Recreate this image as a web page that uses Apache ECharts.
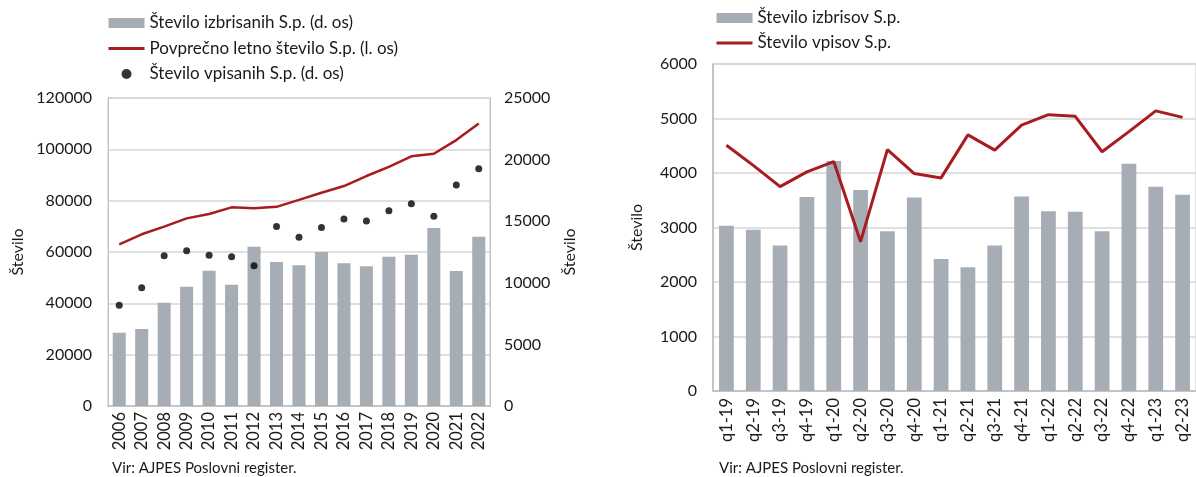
<!DOCTYPE html>
<html>
<head>
<meta charset="utf-8">
<script src="https://cdn.jsdelivr.net/npm/echarts@6/dist/echarts.min.js"></script>
<style>
  html, body { margin: 0; padding: 0; background: #fff; }
  #chart { width: 1196px; height: 477px; }
</style>
</head>
<body>
<div id="chart"></div>
<script>
// left chart: yearly data
const years = ['2006','2007','2008','2009','2010','2011','2012','2013','2014','2015','2016','2017','2018','2019','2020','2021','2022'];
const izbrisani = [5950, 6250, 8380, 9680, 10980, 9850, 12930, 11690, 11420, 12500, 11580, 11340, 12120, 12280, 14450, 10960, 13740];
const povprecno = [63000, 66900, 69900, 73100, 74800, 77400, 77000, 77600, 80300, 83100, 85700, 89600, 93200, 97300, 98300, 103600, 110100];
const vpisani = [8170, 9600, 12200, 12610, 12230, 12120, 11390, 14560, 13690, 14480, 15180, 15020, 15850, 16420, 15400, 17940, 19260];

// right chart: quarterly data
const quarters = ['q1-19','q2-19','q3-19','q4-19','q1-20','q2-20','q3-20','q4-20','q1-21','q2-21','q3-21','q4-21','q1-22','q2-22','q3-22','q4-22','q1-23','q2-23'];
const izbrisi = [3030, 2960, 2670, 3560, 4220, 3690, 2930, 3550, 2420, 2270, 2670, 3570, 3300, 3290, 2930, 4170, 3750, 3600];
const vpisi = [4510, 4140, 3750, 4020, 4210, 2740, 4430, 3990, 3910, 4700, 4420, 4880, 5070, 5040, 4390, 4760, 5140, 5020];

const FONT = 'Lato';
const GREY = '#a6adb4';
const RED = '#a81c20';
const AXIS = '#c4c4c4';
const GRID = '#d6d6d6';

const chart = echarts.init(document.getElementById('chart'));

const legendText = {fontFamily: FONT, fontSize: 17, color: '#1a1a1a', lineHeight: 18};
const tickText = {fontFamily: FONT, fontSize: 16, color: '#1a1a1a'};
const catText = {fontFamily: FONT, fontSize: 16.5, color: '#1a1a1a'};
const plain = v => String(v);
// legend line icon without the round marker
const noMarker = {opacity: 0};
const legendLine = {width: 3};

chart.setOption({
    animation: false,
    textStyle: {fontFamily: FONT},
    legend: [{
        orient: 'vertical',
        left: 107,
        top: 14,
        padding: 0,
        itemWidth: 36,
        itemHeight: 10,
        itemGap: 7.5,
        textStyle: legendText,
        data: [
            {name: 'Število izbrisanih S.p. (d. os)', icon: 'rect'},
            {name: 'Povprečno letno število S.p. (l. os)', itemStyle: noMarker, lineStyle: legendLine},
            {name: 'Število vpisanih S.p. (d. os)', icon: 'circle'}
        ]
    }, {
        orient: 'vertical',
        left: 715,
        top: 9,
        padding: 0,
        itemWidth: 36,
        itemHeight: 10,
        itemGap: 7,
        textStyle: legendText,
        data: [
            {name: 'Število izbrisov S.p.', icon: 'rect'},
            {name: 'Število vpisov S.p.', itemStyle: noMarker, lineStyle: legendLine}
        ]
    }],
    grid: [
        {left: 108, top: 98, width: 382, height: 308, show: true, borderColor: AXIS, borderWidth: 1},
        {left: 713, top: 64, width: 490, height: 327, show: true, borderColor: AXIS, borderWidth: 1}
    ],
    xAxis: [{
        gridIndex: 0,
        type: 'category',
        data: years,
        axisLine: {lineStyle: {color: AXIS, width: 2}},
        axisTick: {show: false},
        axisLabel: Object.assign({rotate: 90, margin: 6, interval: 0}, catText)
    }, {
        gridIndex: 1,
        type: 'category',
        data: quarters,
        axisLine: {lineStyle: {color: AXIS, width: 2}},
        axisTick: {show: false},
        axisLabel: Object.assign({rotate: 90, margin: 7, interval: 0}, catText)
    }],
    yAxis: [{
        gridIndex: 0,
        type: 'value',
        min: 0, max: 120000, interval: 20000,
        name: 'Število',
        nameLocation: 'middle',
        nameRotate: 90,
        nameGap: 82,
        nameTextStyle: tickText,
        axisLine: {show: true, lineStyle: {color: AXIS}},
        axisLabel: Object.assign({margin: 16, formatter: plain}, tickText),
        splitLine: {lineStyle: {color: GRID, width: 1.5}}
    }, {
        gridIndex: 0,
        type: 'value',
        position: 'right',
        min: 0, max: 25000, interval: 5000,
        name: 'Število',
        nameLocation: 'middle',
        nameRotate: 90,
        nameGap: 72,
        nameTextStyle: tickText,
        axisLine: {show: true, lineStyle: {color: AXIS}},
        axisLabel: Object.assign({margin: 14, formatter: plain}, tickText),
        splitLine: {show: false}
    }, {
        gridIndex: 1,
        type: 'value',
        min: 0, max: 6000, interval: 1000,
        name: 'Število',
        nameLocation: 'middle',
        nameRotate: 90,
        nameGap: 68,
        nameTextStyle: tickText,
        axisLine: {show: true, lineStyle: {color: AXIS, width: 2}},
        axisLabel: Object.assign({margin: 16, formatter: plain}, tickText),
        splitLine: {lineStyle: {color: GRID, width: 1.5}}
    }],
    series: [{
        name: 'Število izbrisanih S.p. (d. os)',
        type: 'bar',
        xAxisIndex: 0, yAxisIndex: 1,
        barWidth: '58%',
        itemStyle: {color: GREY},
        data: izbrisani
    }, {
        name: 'Povprečno letno število S.p. (l. os)',
        type: 'line',
        xAxisIndex: 0, yAxisIndex: 0,
        symbol: 'none',
        lineStyle: {color: RED, width: 2.5},
        itemStyle: {color: RED},
        data: povprecno
    }, {
        name: 'Število vpisanih S.p. (d. os)',
        type: 'scatter',
        xAxisIndex: 0, yAxisIndex: 1,
        symbolSize: 7,
        itemStyle: {color: '#000'},
        data: vpisani
    }, {
        name: 'Število izbrisov S.p.',
        type: 'bar',
        xAxisIndex: 1, yAxisIndex: 2,
        barWidth: '55%',
        itemStyle: {color: GREY},
        data: izbrisi
    }, {
        name: 'Število vpisov S.p.',
        type: 'line',
        xAxisIndex: 1, yAxisIndex: 2,
        symbol: 'none',
        lineStyle: {color: RED, width: 3},
        itemStyle: {color: RED},
        data: vpisi
    }],
    graphic: [{
        type: 'text', left: 112, top: 461,
        style: {text: 'Vir: AJPES Poslovni register.', font: '15px ' + FONT, fill: '#1a1a1a'}
    }, {
        type: 'text', left: 719, top: 461,
        style: {text: 'Vir: AJPES Poslovni register.', font: '15px ' + FONT, fill: '#1a1a1a'}
    }]
});
</script>
</body>
</html>
